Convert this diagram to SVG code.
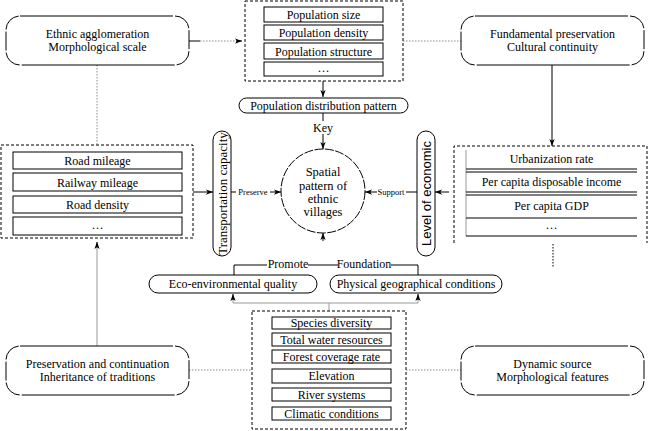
<svg xmlns="http://www.w3.org/2000/svg" width="650" height="431" viewBox="0 0 650 431">
<style>
text{font-family:'Liberation Serif','Times New Roman',serif;fill:#000;text-anchor:middle}
.t12{font-size:12px}
.t13{font-size:12.5px}
.sm{font-size:8.5px}
text.sans{font-family:'Liberation Sans',Arial,sans-serif;font-size:13px}
.cn{fill:none;stroke:#000;stroke-width:1;stroke-dasharray:153 2 20 2 19 2 20 2}
.rn{fill:none;stroke:#000;stroke-width:1}
.grp{fill:none;stroke:#000;stroke-width:1;stroke-dasharray:3 2}
.row{fill:none;stroke:#000;stroke-width:1}
.ln{fill:none;stroke:#000;stroke-width:1}
.gl{fill:none;stroke:#999;stroke-width:1}
.dot{fill:none;stroke:#888;stroke-width:1;stroke-dasharray:1.5 1.5}
.dotk{fill:none;stroke:#000;stroke-width:1;stroke-dasharray:1.5 1.5}
</style>
<defs>
<marker id="ah" viewBox="0 0 8 6" refX="8" refY="3" markerWidth="7" markerHeight="6" orient="auto" markerUnits="userSpaceOnUse"><path d="M0,0 L8,3 L0,6 L2,3 z" fill="#000"/></marker>
</defs>
<rect width="650" height="431" fill="#fff"/>

<g id="connectors">
<path class="ln" d="M189,41 H200"/>
<path class="dot" d="M200,41 H236"/>
<path class="ln" d="M236,41 H242" marker-end="url(#ah)"/>
<path class="dot" d="M403,41 H461"/>
<path class="dot" d="M97,65 V145"/>
<path class="gl" d="M97,346 V243"/>
<path class="ln" d="M97,246 V242" marker-end="url(#ah)"/>
<path class="ln" d="M552,65 V146" marker-end="url(#ah)"/>
<path class="dotk" d="M553,244 V268"/>
<path class="ln" d="M323,81 V97" marker-end="url(#ah)"/>
<path class="ln" d="M323,113 V121"/>
<path class="ln" d="M323,134 V149" marker-end="url(#ah)"/>
<path class="ln" d="M193,192 H213" marker-end="url(#ah)"/>
<path class="ln" d="M231,192 H236"/>
<path class="ln" d="M270,192 H281" marker-end="url(#ah)"/>
<path class="ln" d="M417,192 H406"/>
<path class="ln" d="M377,192 H365" marker-end="url(#ah)"/>
<path class="ln" d="M449,192 H435" marker-end="url(#ah)"/>
<path class="ln" d="M323,241 V233" marker-end="url(#ah)"/>
<path class="ln" d="M234,275 V265 H267 M308,265 H338 M391,265 H418 V275"/>
<path class="gl" d="M329,311 V303 M233,303 H418 M233,303 V299 M418,303 V299"/>
<path class="ln" d="M233,300 V294" marker-end="url(#ah)"/>
<path class="ln" d="M418,300 V294" marker-end="url(#ah)"/>
<path class="dot" d="M189,370 H252"/>
<path class="dot" d="M406,370 H461"/>
<text class="t12" x="323" y="132">Key</text>
<text class="sm" x="253" y="195">Preserve</text>
<text class="sm" x="391" y="195">Support</text>
<text class="t12" x="288" y="268">Promote</text>
<text class="t12" x="364" y="268">Foundation</text>
</g>

<g id="node-ethnic">
<rect class="cn" x="6" y="16" width="183" height="49" rx="14"/>
<text class="t12" x="97.5" y="38">Ethnic agglomeration</text>
<text class="t12" x="97.5" y="50.5">Morphological scale</text>
</g>

<g id="node-fundamental">
<rect class="cn" x="461" y="16" width="183" height="49" rx="14"/>
<text class="t12" x="552.5" y="38">Fundamental preservation</text>
<text class="t12" x="552.5" y="50.5">Cultural continuity</text>
</g>

<g id="node-preservation">
<rect class="cn" x="6" y="346" width="183" height="49" rx="14"/>
<text class="t12" x="97.5" y="368">Preservation and continuation</text>
<text class="t12" x="97.5" y="380.5">Inheritance of traditions</text>
</g>

<g id="node-dynamic">
<rect class="cn" x="461" y="346" width="183" height="49" rx="14"/>
<text class="t12" x="552.5" y="368">Dynamic source</text>
<text class="t12" x="552.5" y="380.5">Morphological features</text>
</g>

<g id="node-population">
<rect class="grp" x="245" y="1" width="158" height="80"/>
<rect class="row" x="264" y="7" width="119" height="15"/>
<text class="t12" x="323.5" y="19">Population size</text>
<rect class="row" x="264" y="25" width="119" height="15"/>
<text class="t12" x="323.5" y="37">Population density</text>
<rect class="row" x="264" y="43" width="119" height="16"/>
<text class="t12" x="323.5" y="55.5">Population structure</text>
<rect class="row" x="264" y="62" width="119" height="14"/>
<text class="t12" x="323.5" y="72">…</text>
</g>

<g id="node-distribution">
<rect class="rn" x="239" y="98" width="169" height="15" rx="7.5"/>
<text class="t12" x="323.5" y="109.5">Population distribution pattern</text>
</g>

<g id="node-center">
<circle cx="323" cy="191" r="42" fill="none" stroke="#000" stroke-width="1" stroke-dasharray="9 1.5"/>
<text class="t13" x="323" y="176">Spatial</text>
<text class="t13" x="323" y="190">pattern of</text>
<text class="t13" x="323" y="203">ethnic</text>
<text class="t13" x="323" y="216">villages</text>
</g>

<g id="node-transport">
<rect class="rn" x="213" y="131" width="18" height="125" rx="9"/>
<text class="t13" transform="translate(226.5,193.5) rotate(-90)" style="font-size:13px">Transportation capacity</text>
</g>

<g id="node-economic">
<rect class="rn" x="417" y="131" width="18" height="125" rx="9"/>
<text class="sans" transform="translate(430.5,193.5) rotate(-90)">Level of economic</text>
</g>

<g id="node-road">
<rect class="grp" x="1" y="145" width="192" height="93"/>
<rect class="row" x="13" y="152" width="169" height="17"/>
<text class="t12" x="97.5" y="165">Road mileage</text>
<rect class="row" x="13" y="173" width="169" height="18"/>
<text class="t12" x="97.5" y="186.5">Railway mileage</text>
<rect class="row" x="13" y="196" width="169" height="17"/>
<text class="t12" x="97.5" y="209">Road density</text>
<rect class="row" x="13" y="217" width="169" height="18"/>
<text class="t12" x="97.5" y="229">…</text>
</g>

<g id="node-econ-indicators">
<path class="grp" d="M454,243 V146 H647 V243"/>
<path class="gl" d="M466,150 V236" stroke="#ccc"/>
<path class="ln" d="M466,169 H637 M466,172 H637 M466,192 H637 M466,195 H637 M466,218 H637 M466,236 H637"/>
<text class="t12" x="551.5" y="163">Urbanization rate</text>
<text class="t12" x="551.5" y="186">Per capita disposable income</text>
<text class="t12" x="551.5" y="210">Per capita GDP</text>
<text class="t12" x="551.5" y="229">…</text>
</g>

<g id="node-eco">
<rect class="rn" x="149" y="275" width="168" height="18" rx="9"/>
<text class="t12" x="233" y="288">Eco-environmental quality</text>
</g>

<g id="node-physical">
<rect class="rn" x="330" y="275" width="172" height="18" rx="9"/>
<text class="t12" x="416" y="288">Physical geographical conditions</text>
</g>

<g id="node-environment">
<rect class="grp" x="252" y="311" width="154" height="118"/>
<rect class="row" x="272" y="317" width="119" height="12"/>
<text class="t12" x="331.5" y="327">Species diversity</text>
<rect class="row" x="272" y="333" width="119" height="13"/>
<text class="t12" x="331.5" y="343.5">Total water resources</text>
<rect class="row" x="272" y="350" width="119" height="13"/>
<text class="t12" x="331.5" y="360.5">Forest coverage rate</text>
<rect class="row" x="272" y="369" width="119" height="14"/>
<text class="t12" x="331.5" y="380">Elevation</text>
<rect class="row" x="272" y="388" width="119" height="13"/>
<text class="t12" x="331.5" y="398.5">River systems</text>
<rect class="row" x="272" y="407" width="119" height="13"/>
<text class="t12" x="331.5" y="417.5">Climatic conditions</text>
</g>
</svg>
